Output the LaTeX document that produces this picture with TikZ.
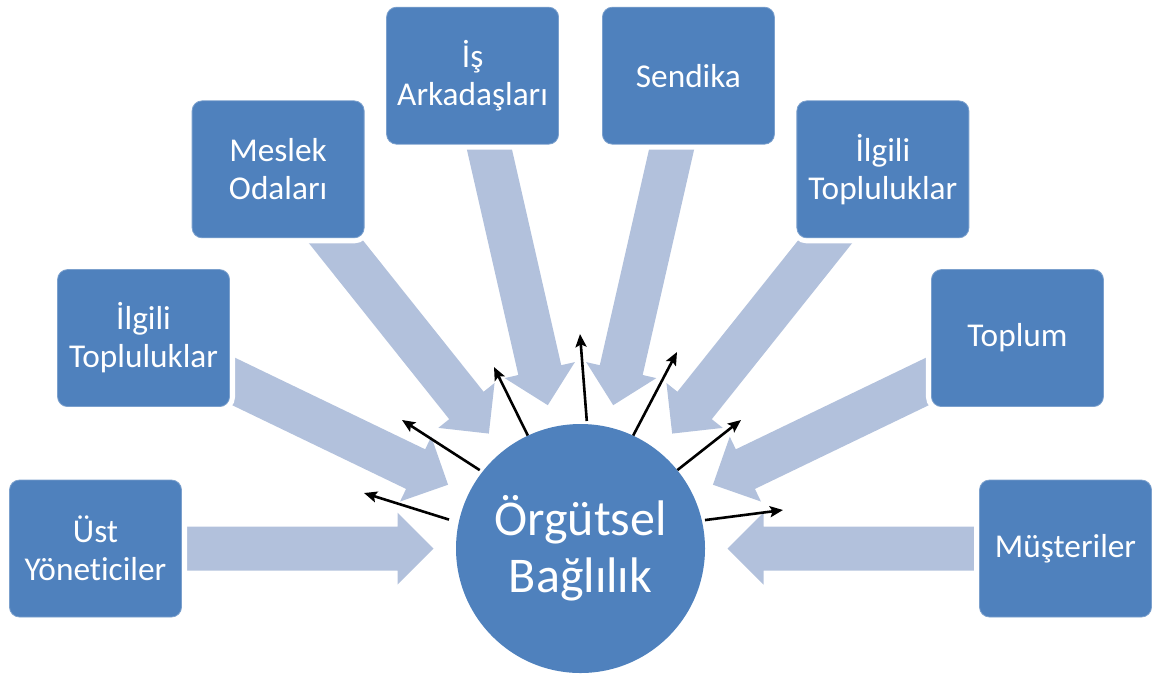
\documentclass[tikz,border=0pt]{standalone}
\usepackage{fontspec}
\setmainfont{Carlito}[Ligatures={NoCommon}]
\usetikzlibrary{calc,arrows.meta}
\definecolor{boxblue}{HTML}{4F81BD}
\definecolor{flowblue}{HTML}{B2C1DC}
\begin{document}
\begin{tikzpicture}[x=1pt,y=-1pt,
  party/.style={rectangle, rounded corners=10pt, fill=boxblue,
    draw=boxblue!75!white, line width=0.8pt, text=white,
    minimum width=172pt, minimum height=137pt, inner sep=0pt,
    align=center, font=\fontsize{33.3}{38}\selectfont,
    preaction={draw=white, line width=11pt}},
  core/.style={circle, fill=boxblue, minimum size=249pt, inner sep=0pt,
    text=white, align=center, font=\fontsize{50}{57}\selectfont},
  outarrow/.style={draw=black, line width=2.6pt,
    -{Stealth[length=13pt,width=11pt,inset=2.5pt]}}]

\useasboundingbox (0,0) rectangle (1155,673);

% central circle
\node[core] (c) at (580.5,548.5) {Örgütsel\\Bağlılık};

% wide inward arrows, one per stakeholder, spaced 180/7 degrees apart
\foreach \a in {180,154.2857,128.5714,102.8571,77.1429,51.4286,25.7143,0}{
  \fill[flowblue, shift={(c.center)}, rotate=\a]
    (147pt,0pt) -- (183pt,36pt) -- (183pt,22pt) -- (480pt,22pt)
    -- (480pt,-22pt) -- (183pt,-22pt) -- (183pt,-36pt) -- cycle;
}

% stakeholder boxes
\node[party] (b1) at ($(c.center)+(180:485pt)$) {Üst\\Yöneticiler};
\node[party] (b2) at ($(c.center)+(154.2857:485pt)$) {İlgili\\Topluluklar};
\node[party] (b3) at ($(c.center)+(128.5714:485pt)$) {Meslek\\Odaları};
\node[party] (b4) at ($(c.center)+(102.8571:485pt)$) {İş\\Arkadaşları};
\node[party] (b5) at ($(c.center)+(77.1429:485pt)$) {Sendika};
\node[party] (b6) at ($(c.center)+(51.4286:485pt)$) {İlgili\\Topluluklar};
\node[party] (b7) at ($(c.center)+(25.7143:485pt)$) {Toplum};
\node[party] (b8) at ($(c.center)+(0:485pt)$) {Müşteriler};

% thin outward arrows
\coordinate (ta) at (364,493);
\coordinate (tb) at (402,420);
\coordinate (tc) at (494,367);
\coordinate (td) at (580,334);
\coordinate (te) at (677,352);
\coordinate (tf) at (741,420);
\coordinate (tg) at (783,510);
\draw[outarrow, shorten <=10pt] (c.168) -- (ta);
\draw[outarrow, shorten <=3pt] (c.142) -- (tb);
\draw[outarrow] (c.115) -- (tc);
\draw[outarrow, shorten <=3pt] (c.87.5) -- (td);
\draw[outarrow] (c.65.6) -- (te);
\draw[outarrow] (c.39) -- (tf);
\draw[outarrow, shorten <=3pt] (c.13) -- (tg);
\end{tikzpicture}
\end{document}
